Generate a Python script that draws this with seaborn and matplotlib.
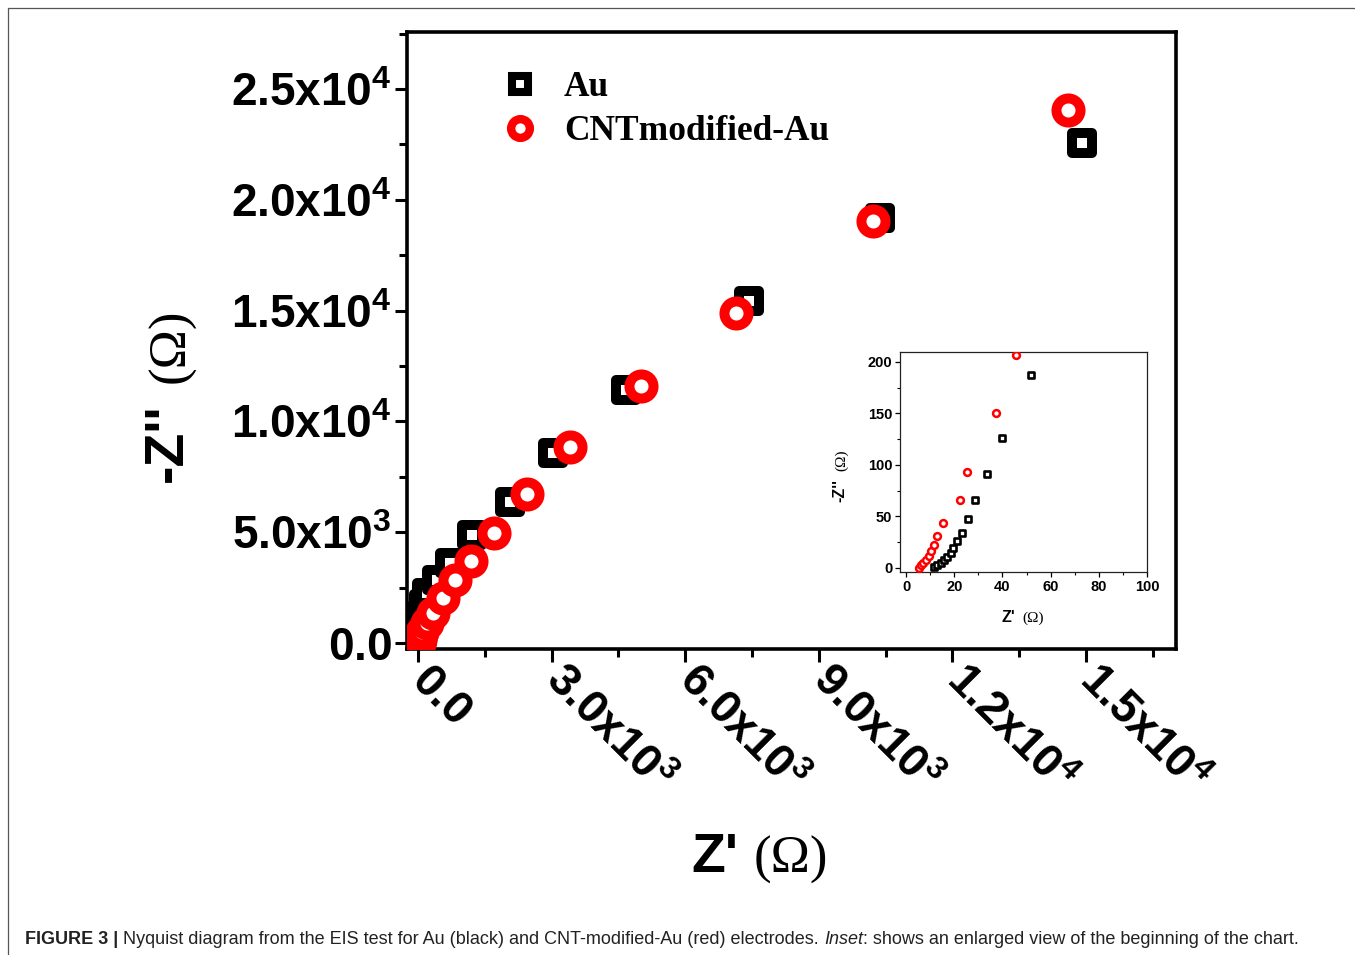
import matplotlib
matplotlib.use("Agg")
import matplotlib.pyplot as plt
import seaborn as sns
import pandas as pd
from matplotlib.lines import Line2D
from matplotlib.ticker import FixedLocator, MultipleLocator

# ---------------- data (Z' , -Z'' in Ohm) ----------------
au_zre = [11.6, 13.0, 14.4, 15.8, 17.2, 18.6, 19.7, 21.1, 23.3, 25.8, 28.5, 33.8,
          39.9, 51.7, 60, 80, 100, 130, 200, 420, 720, 1210, 2070, 3030, 4670,
          7430, 10370, 14910]
au_zim = [0.6, 2.3, 4.5, 7.1, 10.3, 14.2, 19.4, 25.8, 34.2, 47.2, 65.6, 90.8,
          126.3, 187.7, 400, 800, 1250, 1750, 2260, 2840, 3610, 4870, 6360, 8570,
          11420, 15430, 19180, 22560]

cnt_zre = [5.3, 6.2, 7.2, 8.3, 9.4, 10.5, 11.6, 13.0, 15.5, 22.6, 25.2, 37.3,
           45.7, 100, 200, 340, 560, 830, 1190, 1710, 2450, 3410, 5010, 7140,
           10220, 14600]
cnt_zim = [0.0, 2.3, 4.8, 7.8, 11.6, 16.5, 22.3, 31.0, 43.0, 65.6, 93.1, 150.2,
           206.5, 500, 900, 1350, 2030, 2840, 3700, 4960, 6720, 8840, 11600,
           14890, 19040, 24050]

series_names = ["Au", "CNTmodified-Au"]
series_colors = ["black", "#ff0000"]
series_markers = ["s", "o"]

main_xticks = [0, 3000, 6000, 9000, 12000, 15000]
main_xticklabels = ["0.0", "3.0x10^{3}", "6.0x10^{3}", "9.0x10^{3}", "1.2x10^{4}", "1.5x10^{4}"]
main_yticks = [0, 5000, 10000, 15000, 20000, 25000]
main_yticklabels = ["0.0", "5.0x10^{3}", "1.0x10^{4}", "1.5x10^{4}", "2.0x10^{4}", "2.5x10^{4}"]
inset_xticks = [0, 20, 40, 60, 80, 100]
inset_yticks = [0, 50, 100, 150, 200]

caption_parts = [("FIGURE 3 | ", "bold", "normal"),
                 ("Nyquist diagram from the EIS test for Au (black) and CNT-modified-Au (red) electrodes. ", "normal", "normal"),
                 ("Inset", "normal", "italic"),
                 (": shows an enlarged view of the beginning of the chart.", "normal", "normal")]

df = pd.DataFrame({
    "Zre": au_zre + cnt_zre,
    "Zim": au_zim + cnt_zim,
    "sample": [series_names[0]] * len(au_zre) + [series_names[1]] * len(cnt_zre),
})

# ---------------- style ----------------
sns.set_style("ticks")
plt.rcParams["font.family"] = ["Liberation Sans", "DejaVu Sans"]
plt.rcParams["mathtext.fontset"] = "custom"
plt.rcParams["mathtext.bf"] = "Liberation Sans:bold"
plt.rcParams["mathtext.rm"] = "Liberation Sans"
plt.rcParams["mathtext.it"] = "Liberation Sans:italic"
for k in ["text.color", "axes.labelcolor", "xtick.color", "ytick.color", "axes.edgecolor"]:
    plt.rcParams[k] = "black"

W, H = 1355, 955
fig = plt.figure(figsize=(W / 100, H / 100), dpi=100)
fig.patch.set_facecolor("white")


def fx(px):
    return px / W


def fy(py):
    return 1 - py / H


# ---------------- main axes ----------------
ax = fig.add_axes([fx(407), fy(649), fx(1176) - fx(407), fy(32) - fy(649)])
main_style = {"Au": dict(s=207, linewidth=7.2), "CNTmodified-Au": dict(s=300, linewidth=7.2)}
for name, col, mk in zip(series_names, series_colors, series_markers):
    sub = df[df["sample"] == name]
    sns.scatterplot(data=sub, x="Zre", y="Zim", ax=ax, marker=mk, color=col,
                    facecolor="white", edgecolor=col, legend=False, zorder=3,
                    **main_style[name])
ax.set_xlim(-247, 17020)
ax.set_ylim(-270, 27570)
ax.set_xlabel("")
ax.set_ylabel("")
for sp in ax.spines.values():
    sp.set_linewidth(2.6)
    sp.set_color("black")
    sp.set_visible(True)
ax.xaxis.set_major_locator(FixedLocator(main_xticks))
ax.yaxis.set_major_locator(FixedLocator(main_yticks))
ax.xaxis.set_minor_locator(MultipleLocator(1500))
ax.yaxis.set_minor_locator(MultipleLocator(2500))
ax.set_xticklabels([r"$\mathbf{%s}$" % t for t in main_xticklabels], rotation=-45,
                   ha="left", va="center", rotation_mode="anchor", fontsize=33)
ax.set_yticklabels([r"$\mathbf{%s}$" % t for t in main_yticklabels], fontsize=33)
ax.tick_params(which="major", direction="out", length=9, width=2.2, pad=2)
ax.tick_params(which="minor", direction="out", length=6, width=2.2)
ax.tick_params(axis="x", which="major", pad=8)

handles = [
    Line2D([], [], ls="", marker="s", ms=11, mew=5.8, mfc="white", mec="black", label=series_names[0]),
    Line2D([], [], ls="", marker="o", ms=13.5, mew=6.0, mfc="white", mec="#ff0000", label=series_names[1]),
]
leg = ax.legend(handles=handles, loc="upper left", bbox_to_anchor=(0.1235, 0.936),
                frameon=False, borderaxespad=0, borderpad=0, handlelength=1.0,
                handletextpad=0.75, labelspacing=0.3,
                prop={"family": "Liberation Serif", "weight": "bold", "size": 25.5})

# ---------------- inset ----------------
axi = fig.add_axes([fx(900), fy(572), fx(1147) - fx(900), fy(352) - fy(572)])
inset_style = {"Au": dict(s=17, linewidth=1.9), "CNTmodified-Au": dict(s=24, linewidth=1.8)}
for name, col, mk in zip(series_names, series_colors, series_markers):
    sub = df[df["sample"] == name]
    sns.scatterplot(data=sub, x="Zre", y="Zim", ax=axi, marker=mk, color=col,
                    facecolor="white", edgecolor=col, legend=False, zorder=3,
                    **inset_style[name])
axi.set_xlim(-2.5, 100)
axi.set_ylim(-4.2, 209.7)
axi.set_xlabel("")
axi.set_ylabel("")
for sp in axi.spines.values():
    sp.set_linewidth(0.9)
    sp.set_color("#222222")
axi.xaxis.set_major_locator(FixedLocator(inset_xticks))
axi.yaxis.set_major_locator(FixedLocator(inset_yticks))
axi.xaxis.set_minor_locator(MultipleLocator(10))
axi.yaxis.set_minor_locator(MultipleLocator(25))
axi.tick_params(which="major", direction="out", length=3.5, width=0.9, pad=2, labelsize=10.5)
axi.tick_params(which="minor", direction="out", length=2, width=0.8)
for lab in axi.get_xticklabels() + axi.get_yticklabels():
    lab.set_fontweight("bold")

# ---------------- axis labels (mixed fonts) ----------------
sans_b = dict(family="Liberation Sans", weight="bold")
serif = dict(family="Liberation Serif", weight="normal")
fig.text(fx(715), fy(858), "Z'", ha="center", va="center", fontsize=40, **sans_b)
fig.text(fx(791), fy(860), "(\u03a9)", ha="center", va="center", fontsize=38, **serif)
fig.text(fx(168), fy(443), "-Z''", ha="center", va="center", rotation=90, fontsize=40, **sans_b)
fig.text(fx(172), fy(346), "(\u03a9)", ha="center", va="center", rotation=90, fontsize=38, **serif)

fig.text(fx(1008), fy(617), "Z'", ha="center", va="center", fontsize=11.5, **sans_b)
fig.text(fx(1033), fy(618), "(\u03a9)", ha="center", va="center", fontsize=11, **serif)
fig.text(fx(840), fy(490), "-Z''", ha="center", va="center", rotation=90, fontsize=11.5, **sans_b)
fig.text(fx(842), fy(460), "(\u03a9)", ha="center", va="center", rotation=90, fontsize=11, **serif)

# ---------------- page frame ----------------
fig.add_artist(Line2D([fx(8), 1], [fy(8), fy(8)], color="#555555", lw=0.9))
fig.add_artist(Line2D([fx(8), fx(8)], [fy(8), 0], color="#555555", lw=0.9))

# ---------------- caption ----------------
renderer = fig.canvas.get_renderer()
base_size = 12
texts = []
for s, wgt, sty in caption_parts:
    t = fig.text(0, 0, s, fontsize=base_size, fontweight=wgt, fontstyle=sty,
                 family="Liberation Sans", color="#222222")
    texts.append(t)
total = sum(t.get_window_extent(renderer).width for t in texts)
size = base_size * 1276 / total
cur = 25
for t in texts:
    t.set_fontsize(size)
    t.set_position((fx(cur), fy(944)))
    t.set_va("baseline")
    cur += t.get_window_extent(renderer).width

fig.savefig("out.png", dpi=100, facecolor="white")
